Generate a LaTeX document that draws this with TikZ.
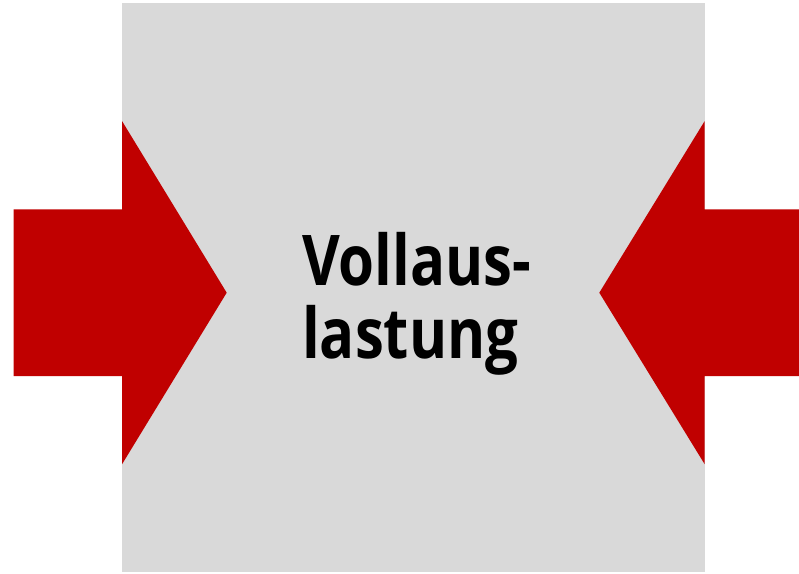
\documentclass[tikz,border=0pt]{standalone}
\usepackage{fontspec}
\setmainfont{Open Sans}
\newfontfamily\labelfont[FakeStretch=0.83]{Open Sans}
\definecolor{blockgrey}{HTML}{D9D9D9}
\definecolor{arrowred}{HTML}{C00000}
\begin{document}
\begin{tikzpicture}[x=1pt, y=-1pt]
    \useasboundingbox (0,0) rectangle (799,573);
    \fill[blockgrey] (122,3) rectangle (705,572);
    \fill[arrowred] (13.5,209.3) -- (122,209.3) -- (122,121) -- (226.7,292.7) -- (122,464.3) -- (122,376) -- (13.5,376) -- cycle;
    \fill[arrowred] (799,209.3) -- (704.7,209.3) -- (704.7,121) -- (599.3,292.7) -- (704.7,464.3) -- (704.7,376) -- (799,376) -- cycle;
    \node (label) [anchor=base west, inner sep=0pt, align=left, font=\labelfont\fontsize{70}{73}\selectfont\bfseries] at (302,358.3) {Vollaus-\\lastung};
\end{tikzpicture}
\end{document}
